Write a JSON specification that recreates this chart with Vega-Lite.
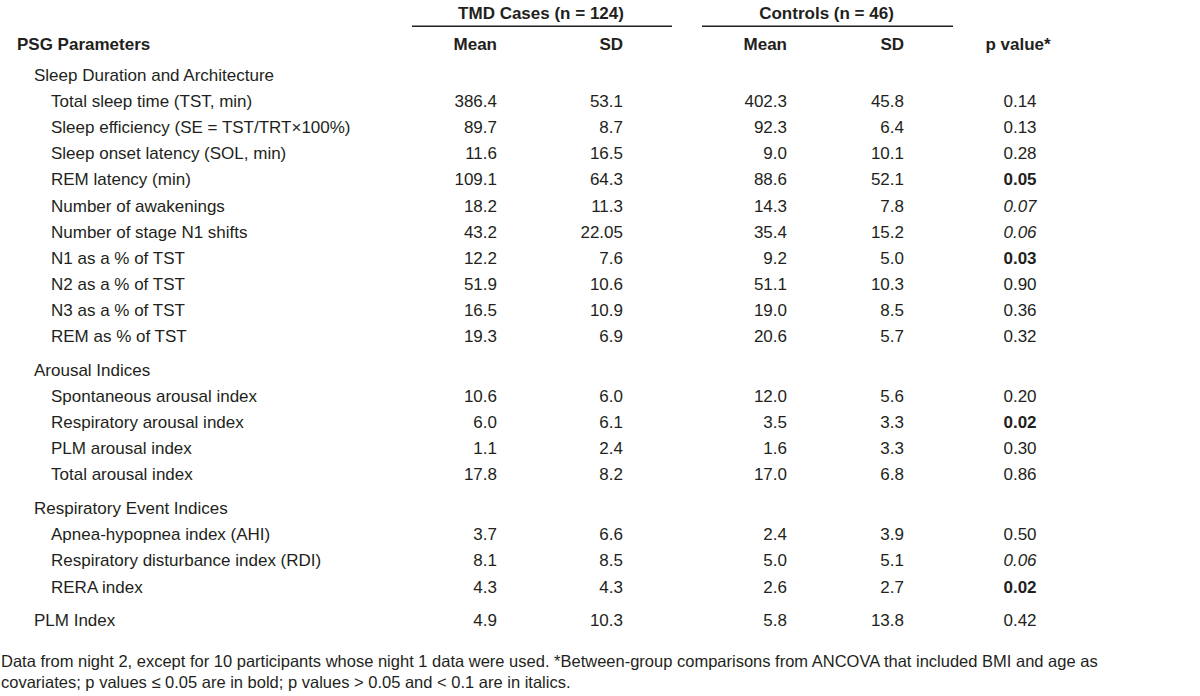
{
  "$schema": "https://vega.github.io/schema/vega-lite/v6.json",
  "width": 1200,
  "height": 696,
  "autosize": {"type": "fit", "contains": "padding"},
  "padding": 0,
  "background": "white",
  "config": {
    "view": {"stroke": null},
    "text": {"font": "Liberation Sans, Arial, sans-serif", "fontSize": 17, "color": "#231f20", "baseline": "alphabetic"},
    "rule": {"color": "#231f20"}
  },
  "datasets": {
    "rows": [
      {"label": "Sleep Duration and Architecture", "level": 1, "i": 0, "sec": 0},
      {"label": "Total sleep time (TST, min)", "level": 2, "i": 1, "sec": 0, "tm": "386.4", "ts": "53.1", "cm": "402.3", "cs": "45.8", "p": "0.14"},
      {"label": "Sleep efficiency (SE = TST/TRT×100%)", "level": 2, "i": 2, "sec": 0, "tm": "89.7", "ts": "8.7", "cm": "92.3", "cs": "6.4", "p": "0.13"},
      {"label": "Sleep onset latency (SOL, min)", "level": 2, "i": 3, "sec": 0, "tm": "11.6", "ts": "16.5", "cm": "9.0", "cs": "10.1", "p": "0.28"},
      {"label": "REM latency (min)", "level": 2, "i": 4, "sec": 0, "tm": "109.1", "ts": "64.3", "cm": "88.6", "cs": "52.1", "p": "0.05"},
      {"label": "Number of awakenings", "level": 2, "i": 5, "sec": 0, "tm": "18.2", "ts": "11.3", "cm": "14.3", "cs": "7.8", "p": "0.07"},
      {"label": "Number of stage N1 shifts", "level": 2, "i": 6, "sec": 0, "tm": "43.2", "ts": "22.05", "cm": "35.4", "cs": "15.2", "p": "0.06"},
      {"label": "N1 as a % of TST", "level": 2, "i": 7, "sec": 0, "tm": "12.2", "ts": "7.6", "cm": "9.2", "cs": "5.0", "p": "0.03"},
      {"label": "N2 as a % of TST", "level": 2, "i": 8, "sec": 0, "tm": "51.9", "ts": "10.6", "cm": "51.1", "cs": "10.3", "p": "0.90"},
      {"label": "N3 as a % of TST", "level": 2, "i": 9, "sec": 0, "tm": "16.5", "ts": "10.9", "cm": "19.0", "cs": "8.5", "p": "0.36"},
      {"label": "REM as % of TST", "level": 2, "i": 10, "sec": 0, "tm": "19.3", "ts": "6.9", "cm": "20.6", "cs": "5.7", "p": "0.32"},
      {"label": "Arousal Indices", "level": 1, "i": 11, "sec": 1},
      {"label": "Spontaneous arousal index", "level": 2, "i": 12, "sec": 1, "tm": "10.6", "ts": "6.0", "cm": "12.0", "cs": "5.6", "p": "0.20"},
      {"label": "Respiratory arousal index", "level": 2, "i": 13, "sec": 1, "tm": "6.0", "ts": "6.1", "cm": "3.5", "cs": "3.3", "p": "0.02"},
      {"label": "PLM arousal index", "level": 2, "i": 14, "sec": 1, "tm": "1.1", "ts": "2.4", "cm": "1.6", "cs": "3.3", "p": "0.30"},
      {"label": "Total arousal index", "level": 2, "i": 15, "sec": 1, "tm": "17.8", "ts": "8.2", "cm": "17.0", "cs": "6.8", "p": "0.86"},
      {"label": "Respiratory Event Indices", "level": 1, "i": 16, "sec": 2},
      {"label": "Apnea-hypopnea index (AHI)", "level": 2, "i": 17, "sec": 2, "tm": "3.7", "ts": "6.6", "cm": "2.4", "cs": "3.9", "p": "0.50"},
      {"label": "Respiratory disturbance index (RDI)", "level": 2, "i": 18, "sec": 2, "tm": "8.1", "ts": "8.5", "cm": "5.0", "cs": "5.1", "p": "0.06"},
      {"label": "RERA index", "level": 2, "i": 19, "sec": 2, "tm": "4.3", "ts": "4.3", "cm": "2.6", "cs": "2.7", "p": "0.02"},
      {"label": "PLM Index", "level": 1, "i": 20, "sec": 3, "tm": "4.9", "ts": "10.3", "cm": "5.8", "cs": "13.8", "p": "0.42"}
    ],
    "groups": [
      {"t": "TMD Cases (n = 124)", "c1": 3, "c2": 4},
      {"t": "Controls (n = 46)", "c1": 5, "c2": 6}
    ],
    "heads": [
      {"t": "Mean", "c": 3},
      {"t": "SD", "c": 4},
      {"t": "Mean", "c": 5},
      {"t": "SD", "c": 6}
    ]
  },
  "layer": [
    {
      "data": {"name": "groups"},
      "transform": [{"calculate": "(datum.c1 + datum.c2) / 2", "as": "mid"}],
      "mark": {"type": "text", "align": "center", "fontWeight": "bold", "dx": -19},
      "encoding": {
        "x": {"field": "mid", "type": "quantitative", "scale": {"type": "linear", "domain": [-1, 0, 1, 2, 3, 4, 5, 6, 7], "range": [1, 17, 34, 51, 497, 623, 787, 904, 1020], "zero": false, "nice": false}, "axis": null},
        "y": {"datum": -2.38, "type": "quantitative", "scale": {"domain": [-3, 24], "range": [2.7, 707.4], "zero": false, "nice": false}, "axis": null},
        "text": {"field": "t"}
      }
    },
    {
      "data": {"name": "groups"},
      "mark": {"type": "rule", "strokeWidth": 1.5, "xOffset": -85, "x2Offset": 49},
      "encoding": {
        "x": {"field": "c1", "type": "quantitative"},
        "x2": {"field": "c2"},
        "y": {"datum": -2.1, "type": "quantitative"}
      }
    },
    {
      "data": {"values": [{"t": "PSG Parameters", "c": 0}]},
      "mark": {"type": "text", "align": "left", "fontWeight": "bold"},
      "encoding": {
        "x": {"field": "c", "type": "quantitative"},
        "y": {"datum": -1.19, "type": "quantitative"},
        "text": {"field": "t"}
      }
    },
    {
      "data": {"name": "heads"},
      "mark": {"type": "text", "align": "right", "fontWeight": "bold"},
      "encoding": {
        "x": {"field": "c", "type": "quantitative"},
        "y": {"datum": -1.19, "type": "quantitative"},
        "text": {"field": "t"}
      }
    },
    {
      "data": {"values": [{"t": "p value*", "c": 7}]},
      "mark": {"type": "text", "align": "center", "fontWeight": "bold", "dx": -2},
      "encoding": {
        "x": {"field": "c", "type": "quantitative"},
        "y": {"datum": -1.19, "type": "quantitative"},
        "text": {"field": "t"}
      }
    },
    {
      "data": {"name": "rows"},
      "transform": [{"calculate": "datum.i + 0.3 * datum.sec", "as": "ypos"}],
      "mark": {"type": "text", "align": "left"},
      "encoding": {
        "x": {"field": "level", "type": "quantitative"},
        "y": {"field": "ypos", "type": "quantitative"},
        "text": {"field": "label"}
      }
    },
    {
      "data": {"name": "rows"},
      "transform": [
        {"calculate": "datum.i + 0.3 * datum.sec", "as": "ypos"},
        {"fold": ["tm", "ts", "cm", "cs"], "as": ["k", "v"]},
        {"filter": "isValid(datum.v)"},
        {"calculate": "indexof(['tm','ts','cm','cs'], datum.k) + 3", "as": "col"}
      ],
      "mark": {"type": "text", "align": "right"},
      "encoding": {
        "x": {"field": "col", "type": "quantitative"},
        "y": {"field": "ypos", "type": "quantitative"},
        "text": {"field": "v"}
      }
    },
    {
      "data": {"name": "rows"},
      "transform": [
        {"filter": "isValid(datum.p) && toNumber(datum.p) >= 0.1"},
        {"calculate": "datum.i + 0.3 * datum.sec", "as": "ypos"}
      ],
      "mark": {"type": "text", "align": "center"},
      "encoding": {
        "x": {"datum": 7, "type": "quantitative"},
        "y": {"field": "ypos", "type": "quantitative"},
        "text": {"field": "p"}
      }
    },
    {
      "data": {"name": "rows"},
      "transform": [
        {"filter": "isValid(datum.p) && toNumber(datum.p) <= 0.05"},
        {"calculate": "datum.i + 0.3 * datum.sec", "as": "ypos"}
      ],
      "mark": {"type": "text", "align": "center", "fontWeight": "bold"},
      "encoding": {
        "x": {"datum": 7, "type": "quantitative"},
        "y": {"field": "ypos", "type": "quantitative"},
        "text": {"field": "p"}
      }
    },
    {
      "data": {"name": "rows"},
      "transform": [
        {"filter": "isValid(datum.p) && toNumber(datum.p) > 0.05 && toNumber(datum.p) < 0.1"},
        {"calculate": "datum.i + 0.3 * datum.sec", "as": "ypos"}
      ],
      "mark": {"type": "text", "align": "center", "fontStyle": "italic"},
      "encoding": {
        "x": {"datum": 7, "type": "quantitative"},
        "y": {"field": "ypos", "type": "quantitative"},
        "text": {"field": "p"}
      }
    },
    {
      "data": {"values": [{"t": "Data from night 2, except for 10 participants whose night 1 data were used. *Between-group comparisons from ANCOVA that included BMI and age as\ncovariates; p values ≤ 0.05 are in bold; p values > 0.05 and < 0.1 are in italics."}]},
      "mark": {"type": "text", "align": "left", "fontSize": 16.5, "lineBreak": "\n", "lineHeight": 21},
      "encoding": {
        "x": {"datum": -1, "type": "quantitative"},
        "y": {"datum": 22.45, "type": "quantitative"},
        "text": {"field": "t"}
      }
    }
  ]
}
